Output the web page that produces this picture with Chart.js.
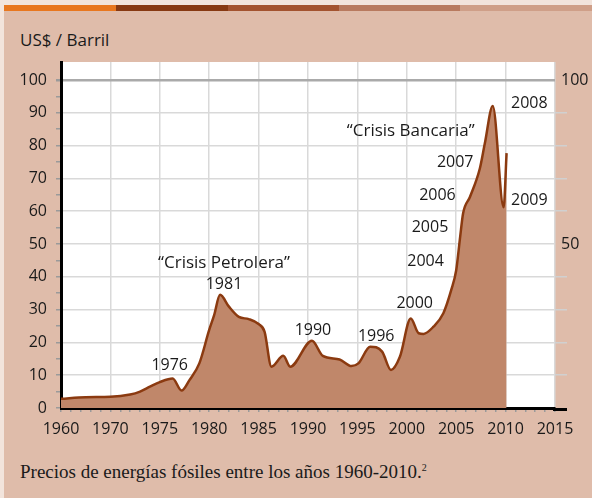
<!DOCTYPE html>
<html>
<head>
<meta charset="utf-8">
<script src="https://cdn.jsdelivr.net/npm/chart.js@4.4.1/dist/chart.umd.min.js"></script>
<style>
  body { margin: 0; width: 592px; height: 498px; background: #f2e4dc; position: relative; overflow: hidden; }
  #panel { position: absolute; left: 4px; top: 5px; right: 0; bottom: 0; background: #dfbcaa; }
  .bar { position: absolute; top: 5px; height: 6px; }
  #unit { position: absolute; left: 20px; top: 28px; font: 17px "Open Sans", sans-serif; color: #1a1a1a; }
  #wrap { position: absolute; left: 0; top: 0; width: 592px; height: 450px; }
  #caption { position: absolute; left: 20px; top: 461px; font: 19px "Liberation Serif", serif; color: #1a1a1a; }
  #caption sup { font-size: 10px; vertical-align: 7px; line-height: 0; }
</style>
</head>
<body>
<div id="panel"></div>
<div class="bar" style="left:4px;width:112px;background:#e8771f"></div>
<div class="bar" style="left:116px;width:112px;background:#873912"></div>
<div class="bar" style="left:228px;width:111px;background:#a3532f"></div>
<div class="bar" style="left:339px;width:121px;background:#b87a5f"></div>
<div class="bar" style="left:460px;width:132px;background:#cf9f88"></div>
<div id="unit">US$ / Barril</div>
<div id="wrap"><canvas id="grafica" width="592" height="450"></canvas></div>
<div id="caption">Precios de energías fósiles entre los años 1960-2010.<sup>2</sup></div>
<script>
// años y precio en US$/barril
const years = [1960, 1965, 1970, 1972, 1973, 1974, 1975, 1976.3, 1977.2, 1978, 1979, 1980, 1980.5, 1981.1,
  1982, 1983, 1984, 1985, 1985.6, 1986.3, 1987.5, 1988.2, 1990.4, 1991.5, 1993.2, 1994.4, 1995.1,
  1996.3, 1997.5, 1998.4, 1999.3, 2000.4, 2001.2, 2001.7, 2002.7, 2003.7, 2004.5, 2005.0, 2005.4,
  2005.7, 2006.4, 2007.4, 2007.9, 2008.7, 2009.8, 2010.1];
const prices = [2.8, 3.3, 3.4, 4.1, 5.0, 6.5, 7.9, 9.0, 5.3, 8.5, 13.6, 23.8, 28.3, 34.5,
  30.9, 27.8, 27.1, 25.6, 23.3, 12.6, 15.9, 12.6, 20.5, 15.9, 14.8, 12.8, 13.6,
  18.7, 17.2, 11.6, 15.6, 27.3, 22.8, 22.6, 24.8, 28.9, 36.0, 42.0, 52.2,
  59.4, 64.4, 73.1, 80.7, 92.1, 61.2, 77.7];

const xTickLabels = ['1960', '1970', '1975', '1980', '1985', '1990', '1995', '2000', '2005', '2010', '2015'];
const yTickValues = [0, 10, 20, 30, 40, 50, 60, 70, 80, 90, 100];
const rightLabels = [50, 100];

// notas de texto sobre el gráfico
const noteTexts = ['\u201CCrisis Petrolera\u201D', '1981', '1976', '1990', '1996', '2000', '2004', '2005',
  '2006', '2007', '\u201CCrisis Bancaria\u201D', '2008', '2009'];
const noteYears = [1981.5, 1981.5, 1976.0, 1990.5, 1996.9, 2000.8, 2001.9, 2002.35, 2003.1, 2004.9, 2000.4, 2012.4, 2012.4];
const noteValues = [44.3, 37.7, 13.1, 23.6, 21.7, 31.9, 44.6, 55.0, 64.9, 74.9, 84.5, 92.9, 63.2];

// el primer tramo del eje (1960-1970) está comprimido en un solo intervalo
function yearToPos(y) {
  return y < 1970 ? (y - 1960) / 10 : (y - 1965) / 5;
}

const font = { family: '"Open Sans", sans-serif', size: 16 };
const isMajor = v => Math.abs(v - Math.round(v)) < 1e-6;

const fondo = {
  id: 'fondo',
  beforeDraw(chart) {
    const a = chart.chartArea, ctx = chart.ctx;
    ctx.save();
    ctx.fillStyle = '#ffffff';
    ctx.fillRect(a.left, a.top, a.right - a.left, a.bottom - a.top);
    ctx.restore();
  },
  afterDraw(chart) {
    const a = chart.chartArea, ctx = chart.ctx;
    const x = chart.scales.x, y = chart.scales.y;
    ctx.save();
    // prolongación del eje inferior
    ctx.strokeStyle = '#000';
    ctx.lineWidth = 3;
    ctx.beginPath();
    ctx.moveTo(a.right - 2, a.bottom + 1.5);
    ctx.lineTo(a.right + 12, a.bottom + 1.5);
    ctx.stroke();
    ctx.fillStyle = '#1a1a1a';
    ctx.textAlign = 'center';
    ctx.textBaseline = 'middle';
    noteTexts.forEach((t, i) => {
      ctx.font = (t.length > 6 ? '17px' : '16px') + ' "Open Sans", sans-serif';
      ctx.fillText(t, x.getPixelForValue(yearToPos(noteYears[i])), y.getPixelForValue(noteValues[i]));
    });
    ctx.restore();
  }
};

new Chart(document.getElementById('grafica'), {
  type: 'line',
  data: {
    datasets: [{
      data: years.map((yr, i) => ({ x: yearToPos(yr), y: prices[i] })),
      borderColor: '#8b3a10',
      borderWidth: 2.5,
      backgroundColor: '#c0876a',
      fill: 'origin',
      pointRadius: 0,
      cubicInterpolationMode: 'monotone'
    }]
  },
  options: {
    responsive: false,
    animation: false,
    layout: { padding: { top: 62, left: 0, right: 0, bottom: 0 } },
    plugins: { legend: { display: false }, tooltip: { enabled: false } },
    scales: {
      x: {
        type: 'linear', min: 0, max: 10,
        afterBuildTicks: s => { s.ticks = Array.from({ length: 51 }, (_, i) => ({ value: Math.round(i * 2) / 10 })); },
        afterFit: s => { s.height = 42; },
        grid: {
          color: c => isMajor(c.tick.value) ? '#d9d9d9' : 'rgba(0,0,0,0)',
          lineWidth: 1.5,
          tickColor: '#9a9a9a',
          tickLength: 4
        },
        border: { color: '#000', width: 3 },
        ticks: {
          autoSkip: false, maxRotation: 0, padding: 8, color: '#1a1a1a', font: font,
          callback: v => isMajor(v) ? xTickLabels[Math.round(v)] : ''
        }
      },
      y: {
        min: 0, max: 105.5,
        afterBuildTicks: s => { s.ticks = Array.from({ length: 21 }, (_, i) => ({ value: i * 5 })); },
        afterFit: s => { s.width = 61; },
        grid: {
          color: c => c.tick.value === 100 ? '#aaaaaa' : (c.tick.value % 10 === 0 ? '#d9d9d9' : 'rgba(0,0,0,0)'),
          lineWidth: c => c.tick.value === 100 ? 2.5 : 1.5,
          tickColor: '#9a9a9a',
          tickLength: 5
        },
        border: { color: '#000', width: 3 },
        ticks: {
          autoSkip: false, padding: 9, color: '#1a1a1a', font: font,
          callback: v => yTickValues.includes(v) ? String(v) : ''
        }
      },
      y2: {
        position: 'right', min: 0, max: 105.5,
        afterBuildTicks: s => { s.ticks = yTickValues.map(v => ({ value: v })); },
        afterFit: s => { s.width = 37; },
        grid: {
          drawOnChartArea: false,
          color: c => (rightLabels.includes(c.tick.value) || c.tick.value === 0) ? 'rgba(0,0,0,0)' : '#d0d0d0',
          lineWidth: 1.5,
          tickLength: 12
        },
        border: { display: false },
        ticks: {
          autoSkip: false, padding: -6, color: '#1a1a1a', font: font,
          callback: v => rightLabels.includes(v) ? String(v) : ''
        }
      }
    }
  },
  plugins: [fondo]
});
</script>
</body>
</html>
